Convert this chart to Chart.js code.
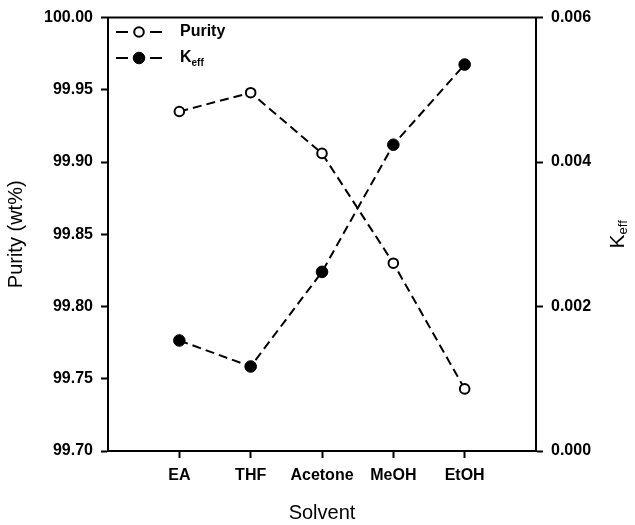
<!DOCTYPE html>
<html>
<head>
<meta charset="utf-8">
<script src="https://cdn.jsdelivr.net/npm/chart.js@4.4.1/dist/chart.umd.min.js"></script>
<style>
    html, body { margin: 0; padding: 0; background: #fff; }
    canvas { display: block; }
</style>
</head>
<body>
<canvas id="grafica" width="635" height="525"></canvas>
<script>
const solventes = ['EA', 'THF', 'Acetone', 'MeOH', 'EtOH'];
const pureza = [99.935, 99.948, 99.906, 99.830, 99.743];
const keff = [0.00153, 0.00117, 0.00248, 0.00424, 0.00535];
const ticksPureza = [99.70, 99.75, 99.80, 99.85, 99.90, 99.95, 100.00];
const ticksKeff = [0.000, 0.002, 0.004, 0.006];

const FUENTE = '"Liberation Sans", Arial, sans-serif';

// marco superior, leyenda y titulo del eje derecho (con subindice)
const extras = {
    id: 'extras',
    afterDraw(chart) {
        const ctx = chart.ctx;
        const area = chart.chartArea;
        ctx.save();
        ctx.strokeStyle = '#000';
        ctx.lineWidth = 2;
        ctx.beginPath();
        ctx.moveTo(area.left - 1, area.top);
        ctx.lineTo(area.right + 1, area.top);
        ctx.stroke();

        // leyenda
        const items = [
            { ds: 0, y: 32, texto: 'Purity', sub: '' },
            { ds: 1, y: 58, texto: 'K', sub: 'eff' }
        ];
        items.forEach(it => {
            const d = chart.data.datasets[it.ds];
            ctx.lineWidth = 2;
            ctx.strokeStyle = '#000';
            ctx.setLineDash([]);
            ctx.beginPath();
            ctx.moveTo(116, it.y); ctx.lineTo(128, it.y);
            ctx.moveTo(150, it.y); ctx.lineTo(162, it.y);
            ctx.stroke();
            ctx.beginPath();
            ctx.arc(139, it.y, d.pointRadius, 0, Math.PI * 2);
            ctx.fillStyle = d.pointBackgroundColor;
            ctx.fill();
            ctx.lineWidth = d.pointBorderWidth;
            ctx.stroke();

            ctx.fillStyle = '#000';
            ctx.textBaseline = 'middle';
            ctx.textAlign = 'left';
            ctx.font = 'bold 16px ' + FUENTE;
            ctx.fillText(it.texto, 180, it.y);
            if (it.sub) {
                const w = ctx.measureText(it.texto).width;
                ctx.font = 'bold 10px ' + FUENTE;
                ctx.fillText(it.sub, 180 + w, it.y + 5);
            }
        });

        // titulo derecho K_eff
        ctx.translate(618, (area.top + area.bottom) / 2);
        ctx.rotate(-Math.PI / 2);
        ctx.fillStyle = '#000';
        ctx.textBaseline = 'middle';
        ctx.textAlign = 'left';
        ctx.font = '21px ' + FUENTE;
        const wK = ctx.measureText('K').width;
        ctx.font = '13px ' + FUENTE;
        const wS = ctx.measureText('eff').width;
        const x0 = -(wK + wS) / 2;
        ctx.font = '21px ' + FUENTE;
        ctx.fillText('K', x0, 0);
        ctx.font = '13px ' + FUENTE;
        ctx.fillText('eff', x0 + wK, 5);
        ctx.restore();
    }
};

const ejeComun = {
    grid: {
        drawOnChartArea: false,
        drawTicks: true,
        tickLength: 7,
        tickWidth: 2,
        tickColor: '#000'
    },
    border: { display: true, color: '#000', width: 2 }
};

new Chart(document.getElementById('grafica').getContext('2d'), {
    type: 'line',
    data: {
        datasets: [{
            label: 'Purity',
            data: pureza.map((v, i) => ({ x: i + 1, y: v })),
            yAxisID: 'y',
            borderColor: '#000',
            borderWidth: 2,
            borderDash: [9, 5],
            pointRadius: 4.8,
            pointBorderWidth: 2,
            pointBackgroundColor: '#fff',
            pointBorderColor: '#000',
            fill: false,
            tension: 0
        }, {
            label: 'Keff',
            data: keff.map((v, i) => ({ x: i + 1, y: v })),
            yAxisID: 'y2',
            borderColor: '#000',
            borderWidth: 2,
            borderDash: [9, 5],
            pointRadius: 5.8,
            pointBorderWidth: 1,
            pointBackgroundColor: '#000',
            pointBorderColor: '#000',
            fill: false,
            tension: 0
        }]
    },
    options: {
        responsive: false,
        animation: false,
        layout: { padding: { top: 15, left: 0, right: 0, bottom: 0 } },
        plugins: { legend: { display: false }, tooltip: { enabled: false } },
        scales: {
            x: {
                ...ejeComun,
                type: 'linear',
                position: 'bottom',
                min: 0,
                max: solventes.length + 1,
                afterBuildTicks: s => { s.ticks = solventes.map((c, i) => ({ value: i + 1 })); },
                afterFit: s => { s.height = 74; },
                ticks: {
                    color: '#000',
                    padding: 8,
                    maxRotation: 0,
                    font: { family: FUENTE, size: 16, weight: 'bold' },
                    callback: v => solventes[v - 1]
                },
                title: {
                    display: true,
                    text: 'Solvent',
                    color: '#000',
                    font: { family: FUENTE, size: 20 },
                    padding: { top: 0, bottom: 0 }
                }
            },
            y: {
                ...ejeComun,
                position: 'left',
                min: 99.70,
                max: 100.00,
                afterBuildTicks: s => { s.ticks = ticksPureza.map(v => ({ value: v })); },
                afterFit: s => { s.width = 108; },
                ticks: {
                    color: '#000',
                    padding: 8,
                    font: { family: FUENTE, size: 16, weight: 'bold' },
                    callback: v => v.toFixed(2)
                },
                title: {
                    display: true,
                    text: 'Purity (wt%)',
                    color: '#000',
                    font: { family: FUENTE, size: 20 },
                    padding: { top: 4, bottom: 0 }
                }
            },
            y2: {
                ...ejeComun,
                position: 'right',
                min: 0,
                max: 0.006,
                afterBuildTicks: s => { s.ticks = ticksKeff.map(v => ({ value: v })); },
                afterFit: s => { s.width = 99; },
                ticks: {
                    color: '#000',
                    padding: 8,
                    font: { family: FUENTE, size: 16, weight: 'bold' },
                    callback: v => v.toFixed(3)
                }
            }
        }
    },
    plugins: [extras]
});
</script>
</body>
</html>
